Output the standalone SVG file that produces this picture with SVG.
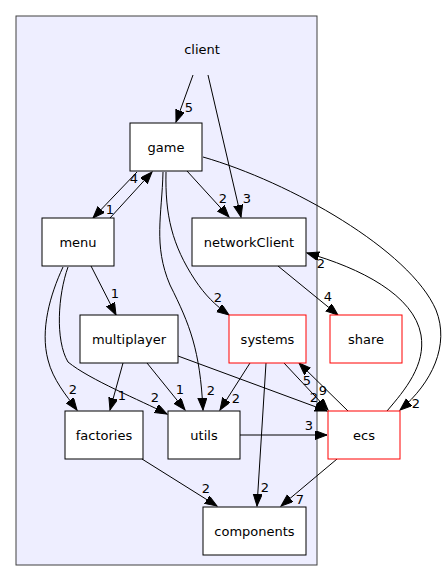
<svg xmlns="http://www.w3.org/2000/svg" width="448" height="581" viewBox="0 0 448 581">
<style>
text{font-family:"DejaVu Sans",sans-serif;font-size:13px;fill:#000;text-anchor:middle}
.n{fill:#fff;stroke:#000;stroke-width:1}
.r{fill:#fff;stroke:#ff0000;stroke-width:1}
.e{fill:none;stroke:#000;stroke-width:1;marker-end:url(#a)}
.l{font-size:13px}
</style>
<defs>
<marker id="a" markerUnits="userSpaceOnUse" markerWidth="13" markerHeight="10" refX="12" refY="4.5" orient="auto">
<path d="M0,0 L12,4.5 L0,9 z" fill="#000" stroke="#000" stroke-width="1"/>
</marker>
</defs>
<rect width="448" height="581" fill="#fff"/>
<g id="cluster_client">
<rect x="16" y="16" width="301" height="549" fill="#eeeeff" stroke="#404040" stroke-width="1"/>
<text x="202" y="54">client</text>
</g>
<g id="edges">
<path class="e" d="M193,75 L176,122"/>
<text class="l" x="189" y="112">5</text>
<path class="e" d="M208,75 L241,217"/>
<text class="l" x="247" y="203">3</text>
<path class="e" d="M137,172 L93,218"/>
<text class="l" x="110" y="214">1</text>
<path class="e" d="M110,218 L152,172"/>
<text class="l" x="134" y="183">4</text>
<path class="e" d="M187,171 L229,217"/>
<text class="l" x="223" y="203">2</text>
<path class="e" d="M163,172 C162,215 153,245 170,285 C190,325 200,350 203,410"/>
<text class="l" x="211" y="395">2</text>
<path class="e" d="M166,172 C165,215 172,245 195,280 C205,295 215,305 229,315"/>
<text class="l" x="218" y="302">2</text>
<path class="e" d="M203,157 C290,182 410,250 436,310 C450,345 432,383 400,410"/>
<text class="l" x="416" y="408">2</text>
<path class="e" d="M387,411 C405,390 426,365 421,335 C414,295 360,268 307,253"/>
<text class="l" x="321" y="268">2</text>
<path class="e" d="M278,266 L338,315"/>
<text class="l" x="328" y="301">4</text>
<path class="e" d="M91,266 L116,315"/>
<text class="l" x="115" y="298">1</text>
<path class="e" d="M63,267 C50,295 40,330 48,360 C53,380 66,395 77,410"/>
<text class="l" x="73" y="394">2</text>
<path class="e" d="M68,267 C58,295 55,340 68,362 C90,380 140,400 167,414"/>
<text class="l" x="155" y="402">2</text>
<path class="e" d="M123,363 L110,410"/>
<text class="l" x="122" y="400">1</text>
<path class="e" d="M147,363 L185,410"/>
<text class="l" x="180" y="394">1</text>
<path class="e" d="M178,356 L327,411"/>
<text class="l" x="314" y="402">2</text>
<path class="e" d="M250,363 L220,410"/>
<text class="l" x="236" y="403">2</text>
<path class="e" d="M266,363 L257,506"/>
<text class="l" x="265" y="492">2</text>
<path class="e" d="M284,363 L328,410"/>
<text class="l" x="323" y="395">9</text>
<path class="e" d="M348,411 L299,363"/>
<text class="l" x="307" y="385">5</text>
<path class="e" d="M240,435 L327,435"/>
<text class="l" x="309" y="430">3</text>
<path class="e" d="M142,459 L217,506"/>
<text class="l" x="206" y="493">2</text>
<path class="e" d="M337,459 L281,506"/>
<text class="l" x="300" y="504">7</text>
</g>
<g id="game"><rect class="n" x="130" y="123" width="72" height="48"/><text x="166" y="151.5">game</text></g>
<g id="menu"><rect class="n" x="42" y="218" width="72" height="48"/><text x="78" y="246.5">menu</text></g>
<g id="networkClient"><rect class="n" x="192" y="218" width="114" height="48"/><text x="249" y="246.5">networkClient</text></g>
<g id="multiplayer"><rect class="n" x="80" y="315" width="98" height="48"/><text x="129" y="343.5">multiplayer</text></g>
<g id="systems"><rect class="r" x="229" y="315" width="77" height="48"/><text x="267.5" y="343.5">systems</text></g>
<g id="share"><rect class="r" x="330" y="315" width="72" height="48"/><text x="366" y="343.5">share</text></g>
<g id="factories"><rect class="n" x="65" y="411" width="78" height="48"/><text x="104" y="439.5">factories</text></g>
<g id="utils"><rect class="n" x="168" y="411" width="72" height="48"/><text x="204" y="439.5">utils</text></g>
<g id="ecs"><rect class="r" x="328" y="411" width="72" height="48"/><text x="364" y="439.5">ecs</text></g>
<g id="components"><rect class="n" x="203" y="507" width="103" height="48"/><text x="254.5" y="535.5">components</text></g>
</svg>
